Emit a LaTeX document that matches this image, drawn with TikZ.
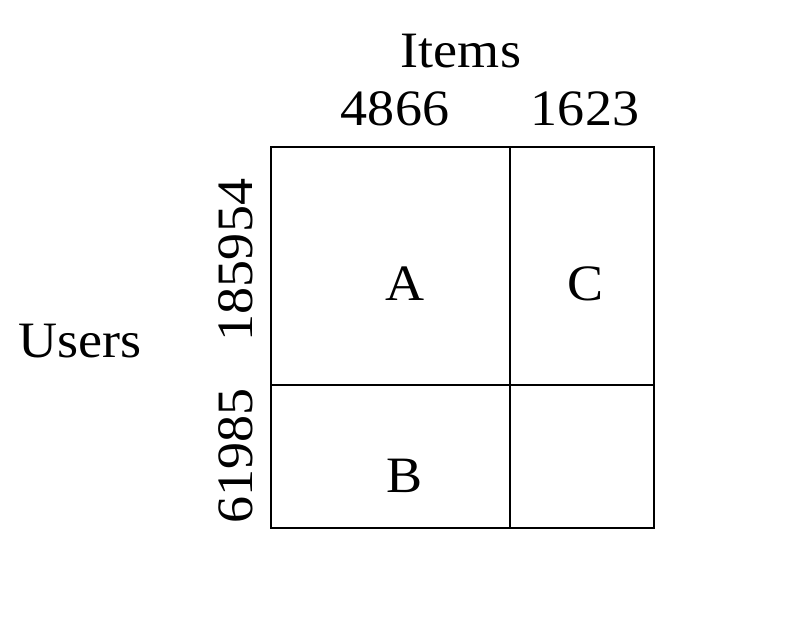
\documentclass[tikz,border=0pt]{standalone}
\usepackage{fontspec}
\setmainfont{Liberation Serif}[FakeStretch=1.06]
\usetikzlibrary{positioning}

\begin{document}
\begin{tikzpicture}[x=0.01cm,y=-0.01cm,
  lbl/.style={inner sep=0pt,anchor=base,font=\fontsize{14.5pt}{16pt}\selectfont},
  grid line/.style={line width=0.65pt}]
\useasboundingbox (0,0) rectangle (804,637);
% block matrix
\coordinate (nw) at (271,147);
\coordinate (se) at (654,528);
\coordinate (colsplit) at (510,147);
\coordinate (rowsplit) at (271,385);
\draw[grid line] (nw) rectangle (se);
\draw[grid line] (colsplit) -- (colsplit |- se);
\draw[grid line] (rowsplit) -- (rowsplit -| se);
% labels
\node[lbl] (items) at (461,68) {Items};
\node[lbl] (ncolA) at (395,126) {4866};
\node[lbl] (ncolC) at (585,126) {1623};
\node[lbl] (users) at (80,357) {Users};
\node[lbl,rotate=90] (nrowA) at (252,260) {185954};
\node[lbl,rotate=90] (nrowB) at (252,456) {61985};
\node[lbl] (blockA) at (405,300) {A};
\node[lbl] (blockC) at (586,300) {C};
\node[lbl] (blockB) at (405,492) {B};
\end{tikzpicture}
\end{document}
